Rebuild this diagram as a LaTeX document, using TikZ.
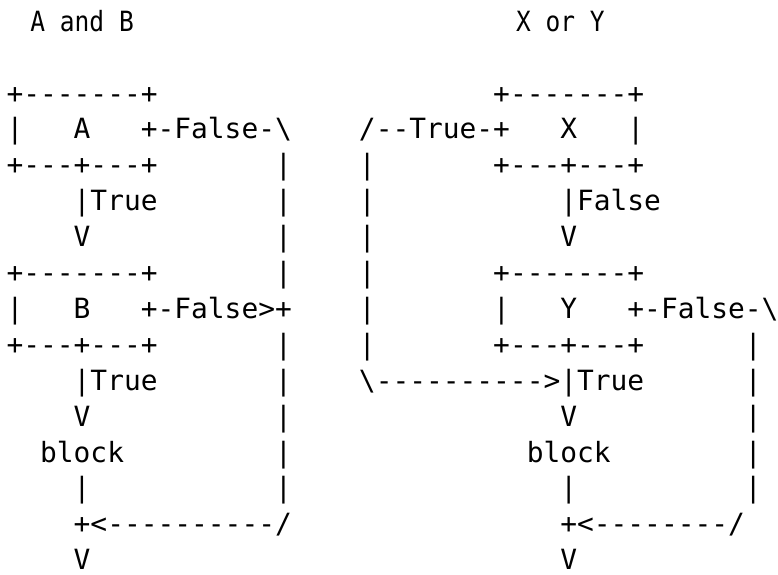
\documentclass[tikz,border=0pt]{standalone}
\usepackage{fontspec}
\setmonofont{DejaVu Sans Mono}
\tikzset{
  % one character cell: 16.78pt wide, one text row: 35.9pt high
  ascii/.style={anchor=base west, inner sep=0pt, outer sep=0pt,
    font=\ttfamily\fontsize{27.87pt}{36pt}\selectfont},
  heading/.style={anchor=base, inner sep=0pt, outer sep=0pt,
    font=\ttfamily\fontsize{27.87pt}{36pt}\selectfont},
}
\newcommand{\bs}{\textbackslash}
\begin{document}
\begin{tikzpicture}
\useasboundingbox (0,0) rectangle (778pt,-574pt);
\fill[white] (0,0) rectangle (778pt,-574pt);
\begin{scope}[shift={(6.6pt,-31.2pt)}, x={(16.78pt,0pt)}, y={(0pt,-35.9pt)}]

% headings
\node[heading] (hAB) at (4.5,0) {\scalebox{0.88}[1]{A and B}};
\node[heading] (hXY) at (33,0) {\scalebox{0.88}[1]{X or Y}};

% ---- A and B ----
\node[ascii] (aTop)   at (0,2) {+-------+};
\node[ascii] (aL)     at (0,3) {|};
\node[ascii] (aTxt)   at (4,3) {A};
\node[ascii] (aFalse) at (8,3) {+-False-\bs};
\node[ascii] (aBot)   at (0,4) {+---+---+};
\node[ascii] (aTrue)  at (4,5) {|True};
\node[ascii] (aArr)   at (4,6) {V};
\node[ascii] (bTop)   at (0,7) {+-------+};
\node[ascii] (bL)     at (0,8) {|};
\node[ascii] (bTxt)   at (4,8) {B};
\node[ascii] (bFalse) at (8,8) {+-False>+};
\node[ascii] (bBot)   at (0,9) {+---+---+};
\node[ascii] (bTrue)  at (4,10) {|True};
\node[ascii] (bArr)   at (4,11) {V};
\node[ascii] (abBlk)  at (2,12) {block};
\node[ascii] (abOut)  at (4,13) {|};
\node[ascii] (abJoin) at (4,14) {+<----------/};
\node[ascii] (abEnd)  at (4,15) {V};
\foreach \r in {4,...,7,9,10,11,12,13}
  \node[ascii] (abRail\r) at (16,\r) {|};

% ---- X or Y ----
\node[ascii] (xTop)   at (29,2) {+-------+};
\node[ascii] (xTrue)  at (21,3) {/--True-+};
\node[ascii] (xTxt)   at (33,3) {X};
\node[ascii] (xR)     at (37,3) {|};
\node[ascii] (xBot)   at (29,4) {+---+---+};
\node[ascii] (xFalse) at (33,5) {|False};
\node[ascii] (xArr)   at (33,6) {V};
\node[ascii] (yTop)   at (29,7) {+-------+};
\node[ascii] (yL)     at (29,8) {|};
\node[ascii] (yTxt)   at (33,8) {Y};
\node[ascii] (yFalse) at (37,8) {+-False-\bs};
\node[ascii] (yBot)   at (29,9) {+---+---+};
\node[ascii] (xyIn)   at (21,10) {\bs---------->|True};
\node[ascii] (yArr)   at (33,11) {V};
\node[ascii] (xyBlk)  at (31,12) {block};
\node[ascii] (xyOut)  at (33,13) {|};
\node[ascii] (xyJoin) at (33,14) {+<--------/};
\node[ascii] (xyEnd)  at (33,15) {V};
\foreach \r in {4,...,9}
  \node[ascii] (xRail\r) at (21,\r) {|};
\foreach \r in {9,...,13}
  \node[ascii] (yRail\r) at (44,\r) {|};

\end{scope}
\end{tikzpicture}
\end{document}
